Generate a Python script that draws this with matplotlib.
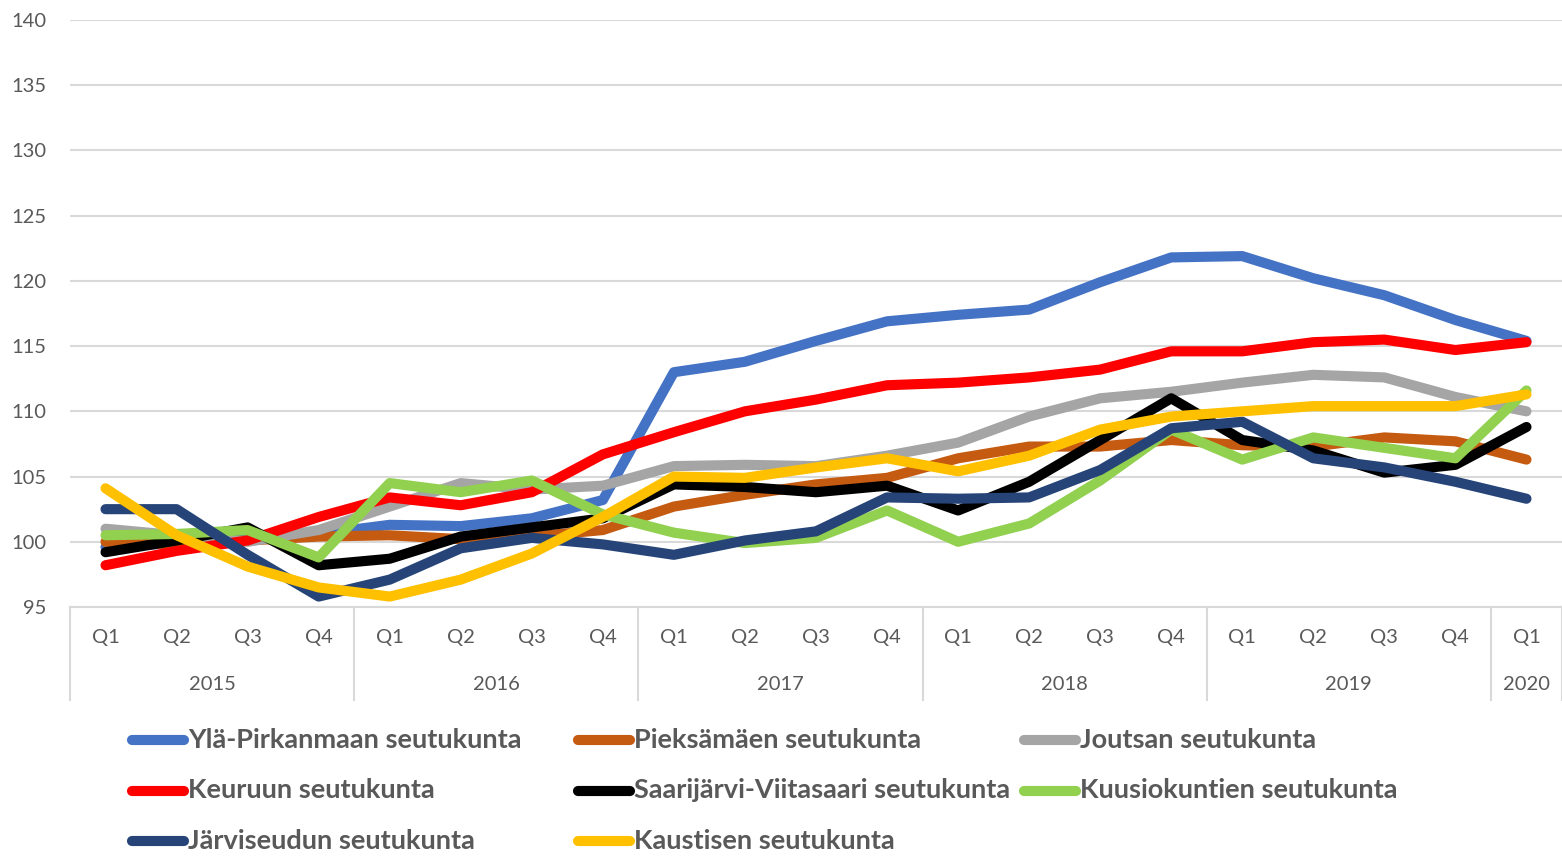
import matplotlib
matplotlib.use("Agg")
import matplotlib.pyplot as plt
from matplotlib.lines import Line2D
import matplotlib.transforms as mtransforms

quarters = ["Q1", "Q2", "Q3", "Q4"] * 5 + ["Q1"]
years = ["2015", "2016", "2017", "2018", "2019", "2020"]

series_names = [
    "Ylä-Pirkanmaan seutukunta",
    "Pieksämäen seutukunta",
    "Joutsan seutukunta",
    "Keuruun seutukunta",
    "Saarijärvi-Viitasaari seutukunta",
    "Kuusiokuntien seutukunta",
    "Järviseudun seutukunta",
    "Kaustisen seutukunta",
]
colors = ["#4472C4", "#C55A11", "#A5A5A5", "#FF0000", "#000000", "#92D050", "#264478", "#FFC000"]

yla = [99.6, 99.9, 100.2, 100.6, 101.3, 101.2, 101.8, 103.2, 113.0, 113.8, 115.4, 116.9,
       117.4, 117.8, 119.9, 121.8, 121.9, 120.2, 118.9, 117.0, 115.4]
pieks = [100.0, 99.8, 100.1, 100.4, 100.5, 100.2, 100.4, 100.9, 102.7, 103.6, 104.4, 104.9,
         106.4, 107.3, 107.3, 107.8, 107.4, 107.3, 108.0, 107.7, 106.3]
joutsa = [101.0, 100.5, 100.0, 100.9, 102.7, 104.5, 104.0, 104.3, 105.8, 105.9, 105.8, 106.6,
          107.6, 109.6, 111.0, 111.5, 112.2, 112.8, 112.6, 111.1, 110.0]
keuruu = [98.2, 99.3, 100.1, 101.9, 103.4, 102.8, 103.8, 106.7, 108.4, 110.0, 110.9, 112.0,
          112.2, 112.6, 113.2, 114.6, 114.6, 115.3, 115.5, 114.7, 115.3]
saari = [99.2, 100.1, 101.1, 98.2, 98.7, 100.4, 101.1, 101.8, 104.4, 104.2, 103.8, 104.3,
         102.4, 104.6, 107.8, 111.0, 107.8, 107.0, 105.3, 105.9, 108.8]
kuusio = [100.5, 100.6, 100.9, 98.8, 104.5, 103.8, 104.7, 102.1, 100.7, 99.9, 100.3, 102.4,
          100.0, 101.4, 104.7, 108.6, 106.3, 108.0, 107.2, 106.4, 111.6]
jarvi = [102.5, 102.5, 99.0, 95.8, 97.1, 99.5, 100.3, 99.8, 99.0, 100.1, 100.8, 103.4,
         103.3, 103.4, 105.5, 108.7, 109.2, 106.4, 105.7, 104.6, 103.3]
kaust = [104.1, 100.5, 98.1, 96.5, 95.8, 97.1, 99.1, 101.9, 105.0, 104.9, 105.7, 106.4,
         105.4, 106.6, 108.6, 109.6, 110.0, 110.4, 110.4, 110.4, 111.3]

data = [yla, pieks, joutsa, keuruu, saari, kuusio, jarvi, kaust]

FONT = ["Lato", "DejaVu Sans"]
TXT = "#595959"
GRID = "#D9D9D9"

W, H = 1562, 857
fig = plt.figure(figsize=(W / 100, H / 100), dpi=100)
ax = fig.add_axes([70 / W, 1 - 607 / H, (W - 70) / W, (607 - 20) / H])

x = list(range(len(quarters)))
for vals, c in zip(data, colors):
    ax.plot(x, vals, color=c, lw=7.3, solid_capstyle="round", solid_joinstyle="round")

ax.set_xlim(-0.5, len(quarters) - 0.5)
ax.set_ylim(95, 140)
ax.set_yticks(range(95, 141, 5))
ax.set_yticklabels([str(v) for v in range(95, 141, 5)], fontfamily=FONT, fontsize=14.5, color=TXT)
ax.yaxis.grid(True, color=GRID, lw=1.5)
ax.set_axisbelow(True)
ax.tick_params(axis="y", length=0, pad=17)
for s in ["top", "right", "left"]:
    ax.spines[s].set_visible(False)
ax.spines["bottom"].set_color(GRID)
ax.spines["bottom"].set_linewidth(1.5)

ax.set_xticks(x)
ax.set_xticklabels(quarters, fontfamily=FONT, fontsize=14.5, color=TXT)
ax.tick_params(axis="x", length=0, pad=16)

trans = mtransforms.blended_transform_factory(ax.transData, fig.transFigure)
ybot = 1 - 700 / H
ytop = 1 - 607 / H
for b in [-0.5, 3.5, 7.5, 11.5, 15.5, 19.5, 20.5]:
    ax.add_line(Line2D([b, b], [ytop, ybot], transform=trans, color=GRID, lw=1.5, clip_on=False))
year_centers = [1.5, 5.5, 9.5, 13.5, 17.5, 20.0]
for yc, yl in zip(year_centers, years):
    ax.text(yc, 1 - 684 / H, yl, transform=trans, ha="center", va="center",
            fontfamily=FONT, fontsize=14.5, color=TXT)

# legend (row-wise, three columns)
for i, (name, c) in enumerate(zip(series_names, colors)):
    row, col = divmod(i, 3)
    hx0 = 132 + col * 446
    hx1 = hx0 + 52
    yy = 1 - (740 + row * 50.5) / H
    fig.add_artist(Line2D([hx0 / W, hx1 / W], [yy, yy], transform=fig.transFigure, color=c,
                          lw=7.3, solid_capstyle="round"))
    fig.text((hx1 + 4) / W, yy, name, ha="left", va="center", fontfamily=FONT,
             fontsize=19.5, fontweight="bold", color=TXT)

fig.savefig("out.png", dpi=100)
